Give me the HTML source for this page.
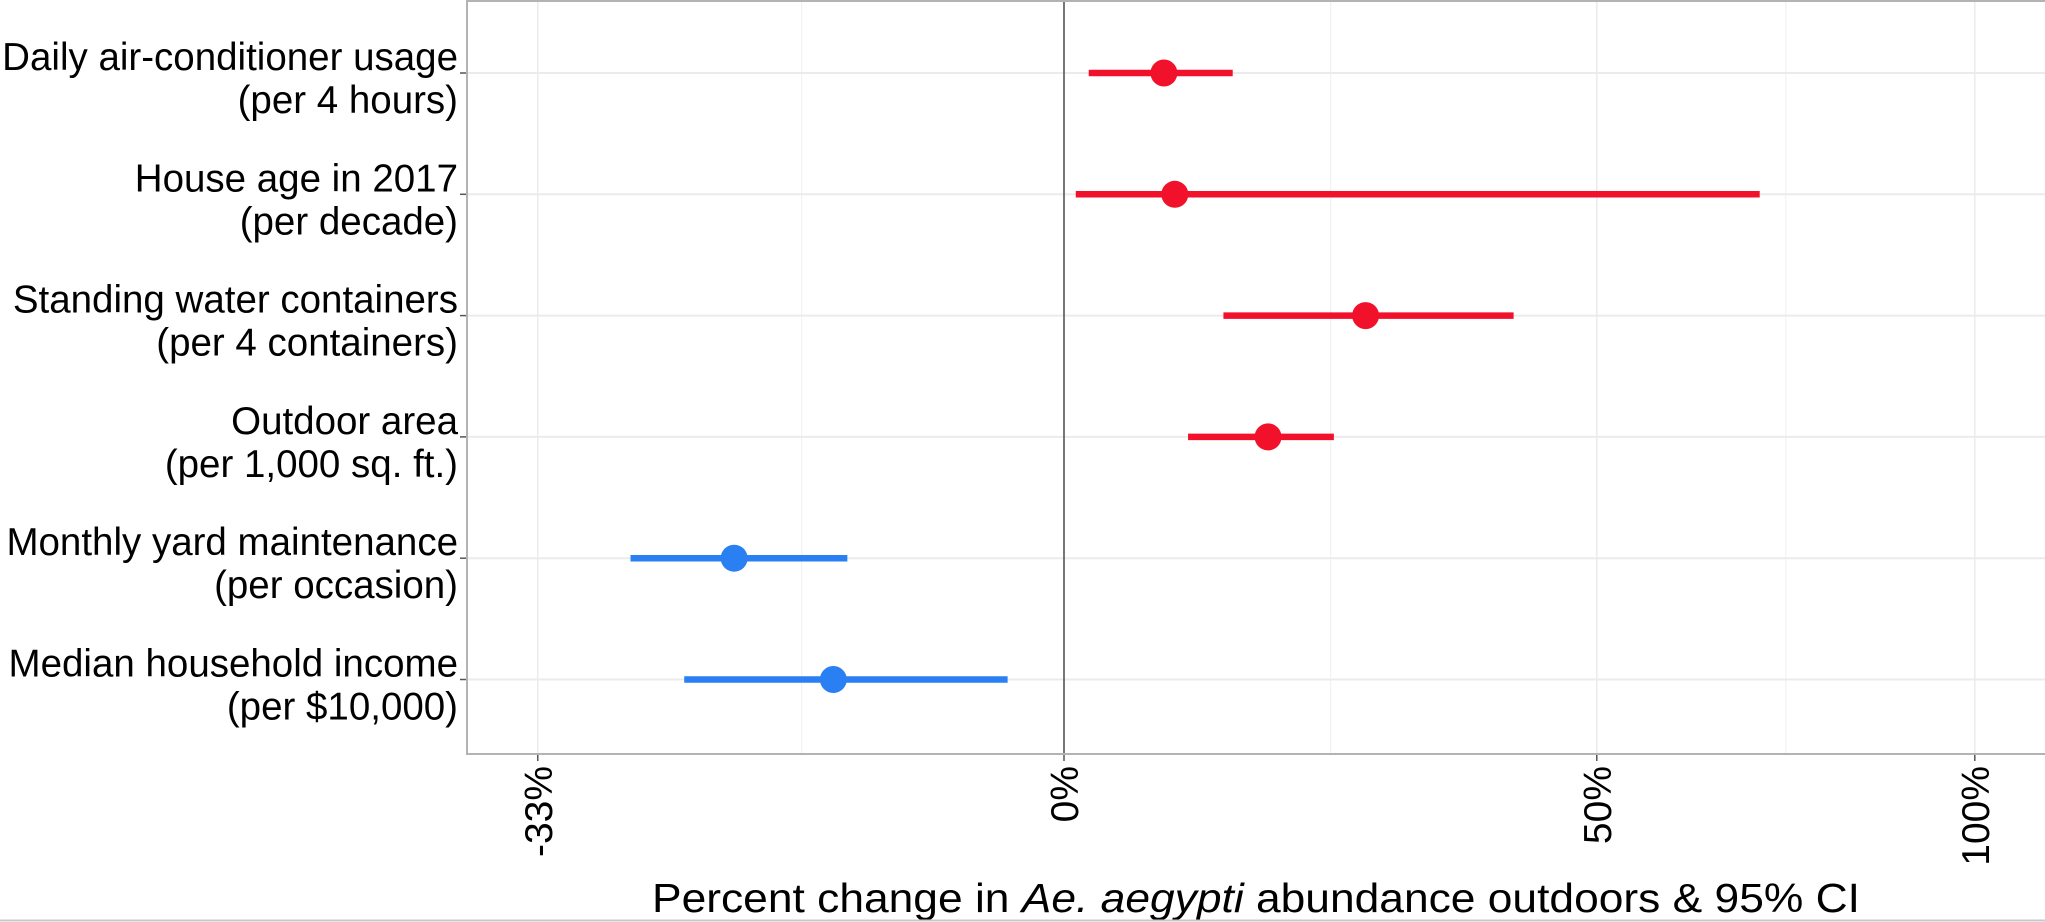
<!DOCTYPE html>
<html><head><meta charset="utf-8"><style>
html,body{margin:0;padding:0;background:#fff;}
svg{display:block;font-family:"Liberation Sans",sans-serif;}
</style></head><body>
<svg id="chart" width="2045" height="922" viewBox="0 0 2045 922" xmlns="http://www.w3.org/2000/svg">
<rect x="0" y="0" width="2045" height="922" fill="#fff"/>
<g id="grid"></g>
<g id="marks"></g>
<g id="labels"></g>
<text x="1256" y="912" font-size="41" text-anchor="middle" textLength="1208" lengthAdjust="spacingAndGlyphs">Percent change in <tspan font-style="italic">Ae. aegypti</tspan> abundance outdoors &amp; 95% CI</text>
<line x1="0" y1="920.5" x2="2045" y2="920.5" stroke="#c8c8c8" stroke-width="2"/>
</svg>
<script>
const categories = ["Daily air-conditioner usage|(per 4 hours)","House age in 2017|(per decade)","Standing water containers|(per 4 containers)","Outdoor area|(per 1,000 sq. ft.)","Monthly yard maintenance|(per occasion)","Median household income|(per $10,000)"];
const estimates = [7.9, 8.8, 25.8, 16.8, -22.2, -16.1];
const lowerCI = [1.9, 0.9, 12.9, 9.9, -28.1, -25.1];
const upperCI = [13.7, 69.8, 40.8, 22.8, -15.2, -4.2];
const tickValues = [-33, 0, 50, 100];
const tickLabels = ["-33%", "0%", "50%", "100%"];
const minorValues = [-18.1, 22.5, 73.2];

const NS = "http://www.w3.org/2000/svg";
const PL = 467, PT = 1, PB = 754, PR = 2046;
function xScale(p){ return 1064 + 1314 * Math.log(1 + p/100); }
function yScale(i){ return 73 + i * 121.3; }
function mk(tag, attrs, parent){ const e = document.createElementNS(NS, tag); for (const k in attrs) e.setAttribute(k, attrs[k]); parent.appendChild(e); return e; }
const grid = document.getElementById('grid'), marks = document.getElementById('marks'), labels = document.getElementById('labels');

minorValues.forEach(v => {
  const l = mk('line', {x1: xScale(v), x2: xScale(v), y1: PT, y2: PB, stroke: '#f2f2f2', 'stroke-width': 1.2}, grid);
  
  
});
tickValues.forEach((v, i) => {
  const x = xScale(v);
  const l = mk('line', {x1: x, x2: x, y1: PT, y2: PB, stroke: '#ebebeb', 'stroke-width': 1.5}, grid);
  
  
  const t = mk('line', {x1: x, x2: x, y1: PB, y2: PB + 7, stroke: '#555', 'stroke-width': 1.5}, grid);
  
  
  const tx = mk('text', {x: 0, y: 0, 'font-size': 39, 'text-anchor': 'end', transform: `translate(${x + 14},${PB + 12}) rotate(-90)`}, labels);
  tx.textContent = tickLabels[i];
  
  
});
categories.forEach((c, i) => {
  const y = yScale(i);
  const g = mk('line', {x1: PL, x2: PR, y1: y, y2: y, stroke: '#ebebeb', 'stroke-width': 2}, grid);
  
  
  const t = mk('line', {x1: PL - 7, x2: PL, y1: y, y2: y, stroke: '#555', 'stroke-width': 1.5}, grid);
  
  
  const parts = c.split('|');
  parts.forEach((p, j) => {
    const tx = mk('text', {x: 458, y: y - 3 + j * 43, 'font-size': 38.5, 'text-anchor': 'end'}, labels);
    tx.textContent = p;
    
    
  });
});
const z = mk('line', {x1: xScale(0), x2: xScale(0), y1: PT, y2: PB, stroke: '#333', 'stroke-width': 1.3}, grid);


const pb = mk('path', {d: `M${PR} ${PT} H${PL} V${PB} H${PR}`, fill: 'none', stroke: '#b3b3b3', 'stroke-width': 2}, grid);



estimates.forEach((v, i) => {
  const col = v >= 0 ? '#f2112b' : '#2a7ff2';
  const y = yScale(i);
  const ci = mk('line', {x1: xScale(lowerCI[i]), x2: xScale(upperCI[i]), y1: y, y2: y, stroke: col, 'stroke-width': 6.5}, marks);
  
  
  const pt = mk('circle', {cx: xScale(v), cy: y, r: 13.5, fill: col}, marks);
  
  
});
</script>
</body></html>
